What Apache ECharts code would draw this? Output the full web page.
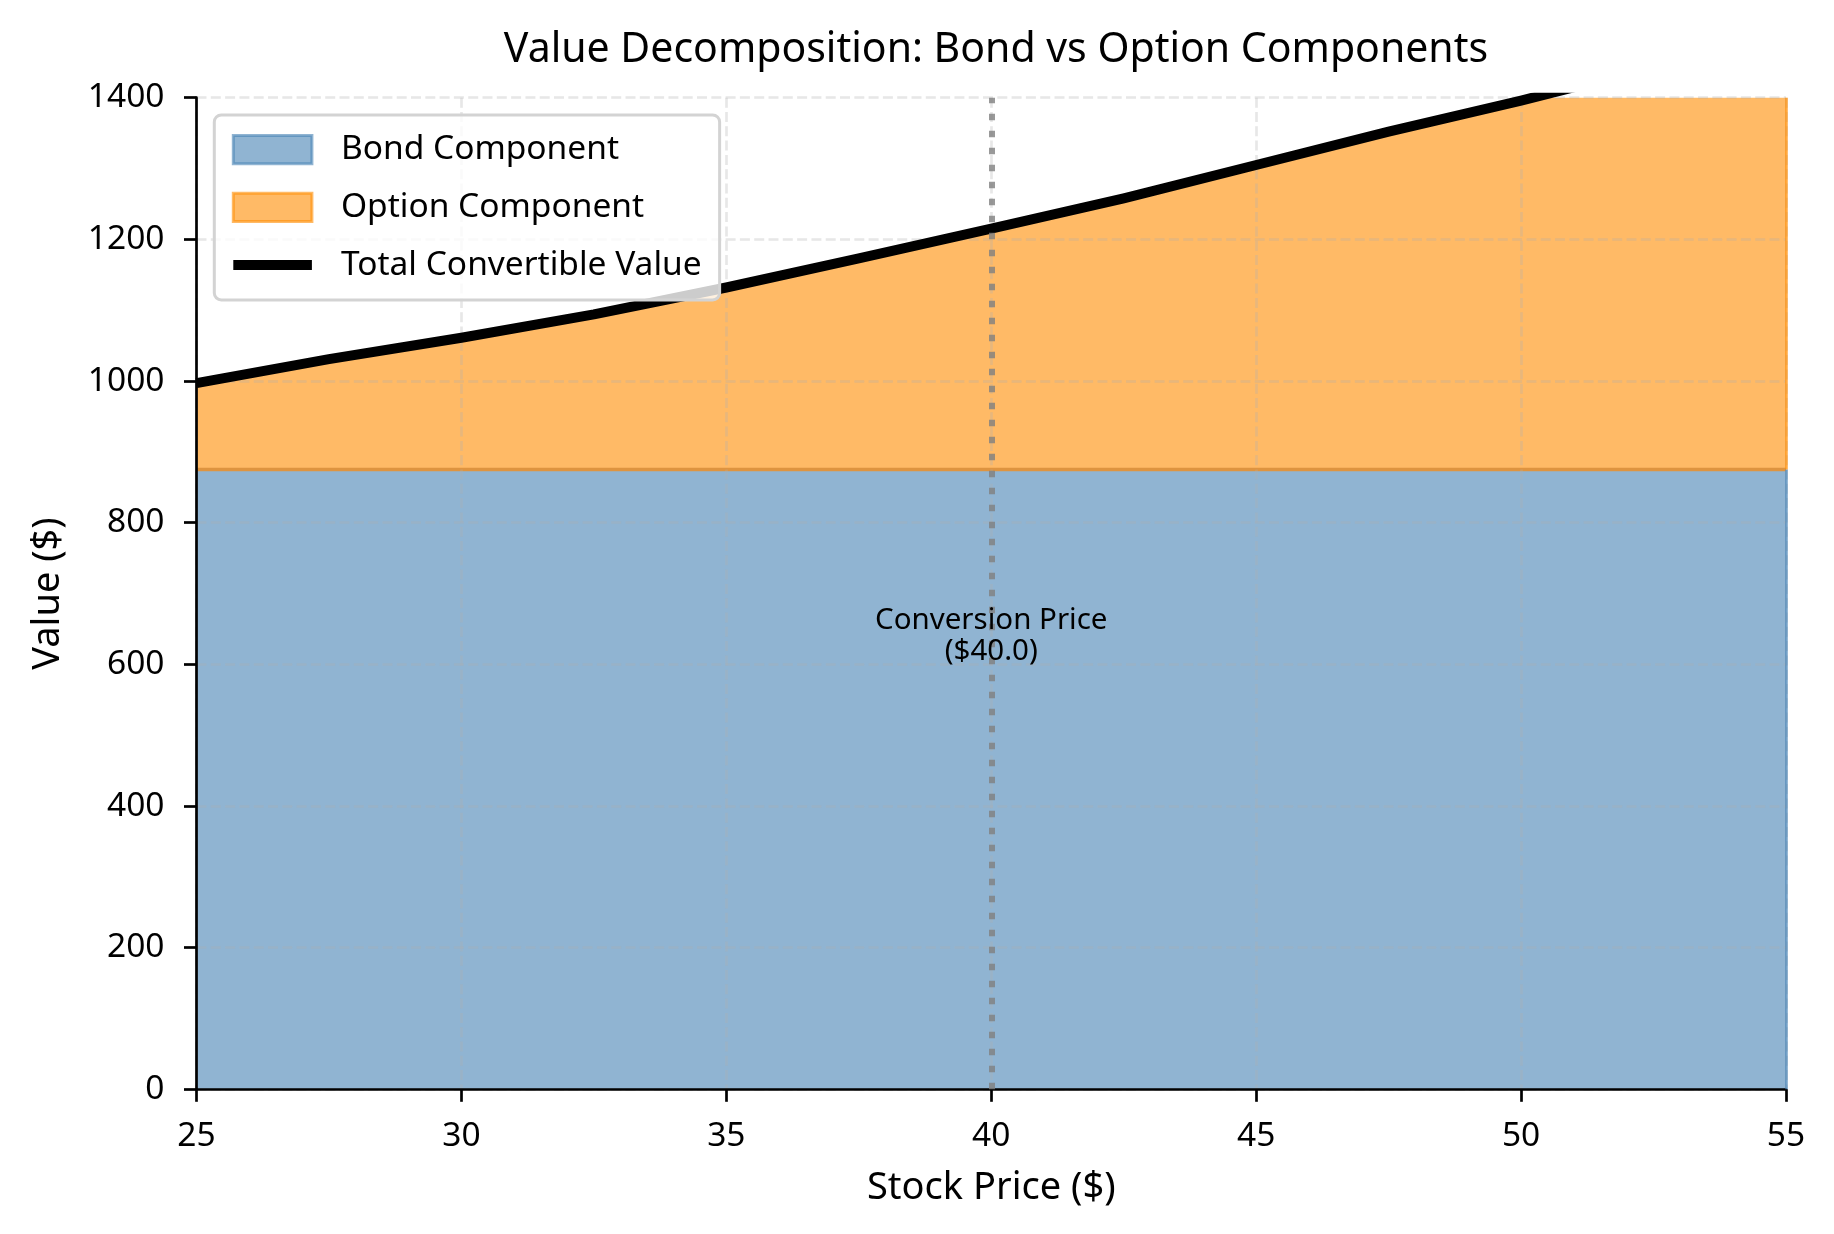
<!DOCTYPE html>
<html>
<head>
<meta charset="utf-8">
<script src="https://cdn.jsdelivr.net/npm/echarts@6/dist/echarts.min.js"></script>
<style>
html,body{margin:0;padding:0;background:#fff;}
#chart{width:1834px;height:1234px;}
</style>
</head>
<body>
<div id="chart"></div>
<script>
// ---- data ----
const stockPrices = [25, 27.5, 30, 32.5, 35, 37.5, 40, 42.5, 45, 47.5, 50, 52.5, 55];
const bondValues  = [875, 875, 875, 875, 875, 875, 875, 875, 875, 875, 875, 875, 875];
const totalValues = [997, 1031, 1061, 1094, 1132, 1173, 1215, 1258, 1305, 1352, 1396, 1443, 1492];
const xTickValues = [25, 30, 35, 40, 45, 50, 55];
const yTickValues = [0, 200, 400, 600, 800, 1000, 1200, 1400];
const conversionPrice = 40;
const annotationValue = 640;

const FONT = 'Noto Sans';
const xMin = xTickValues[0], xMax = xTickValues[xTickValues.length - 1];
const yMin = yTickValues[0], yMax = yTickValues[yTickValues.length - 1];
const xInt = xTickValues[1] - xTickValues[0];
const yInt = yTickValues[1] - yTickValues[0];
const lastX = stockPrices[stockPrices.length - 1];
const bondFloor = bondValues[0];
const lastBond = bondValues[bondValues.length - 1];
const lastTotal = Math.min(totalValues[totalValues.length - 1], yMax);

const pairs = arr => stockPrices.map((x, i) => [x, arr[i]]);

const gridLine = { show: true, lineStyle: { color: 'rgba(176,176,176,0.3)', width: 2.7, type: [10, 4.3] } };
const axisLine = { show: true, onZero: false, lineStyle: { color: '#000', width: 2.7 } };
const axisTick = { show: true, length: 12.5, lineStyle: { color: '#000', width: 2.7 } };

const chart = echarts.init(document.getElementById('chart'), null, { renderer: 'canvas' });
chart.setOption({
  backgroundColor: '#fff',
  animation: false,
  title: {
    text: 'Value Decomposition: Bond vs Option Components',
    left: 991, top: 24.5, textAlign: 'center',
    textStyle: { fontFamily: FONT, fontSize: 41, fontWeight: 'normal', color: '#000', lineHeight: 42 }
  },
  grid: { left: 196.5, right: 48, top: 97.7, bottom: 144.7, containLabel: false },
  legend: {
    z: 20,
    orient: 'vertical', left: 214.3, top: 115,
    padding: [17.7, 18, 17.8, 14],
    itemWidth: 78.6, itemHeight: 28.3, itemGap: 23.7,
    backgroundColor: 'rgba(255,255,255,0.8)',
    borderColor: '#d3d3d3', borderWidth: 3, borderRadius: 7,
    textStyle: { fontFamily: FONT, fontSize: 33.5, color: '#000', lineHeight: 28, padding: [0, 0, 0, 24] },
    data: [
      { name: 'Bond Component', icon: 'rect',
        itemStyle: { color: 'rgba(70,130,180,0.6)', borderColor: 'rgba(70,130,180,0.6)', borderWidth: 3 } },
      { name: 'Option Component', icon: 'rect',
        itemStyle: { color: 'rgba(255,140,0,0.6)', borderColor: 'rgba(255,140,0,0.6)', borderWidth: 3 } },
      { name: 'Total Convertible Value',
        lineStyle: { color: '#000', width: 10 }, itemStyle: { opacity: 0 } }
    ]
  },
  xAxis: {
    type: 'value', min: xMin, max: xMax, interval: xInt, z: 3,
    axisLine: axisLine, axisTick: axisTick, splitLine: gridLine,
    axisLabel: { fontFamily: FONT, fontSize: 33.5, color: '#000', margin: 30, lineHeight: 34,
                 formatter: v => String(v) },
    name: 'Stock Price ($)', nameLocation: 'middle', nameGap: 80,
    nameTextStyle: { fontFamily: FONT, fontSize: 38, color: '#000', lineHeight: 38 }
  },
  yAxis: {
    type: 'value', min: yMin, max: yMax, interval: yInt, z: 3,
    axisLine: axisLine, axisTick: axisTick, splitLine: gridLine,
    axisLabel: { fontFamily: FONT, fontSize: 33.5, color: '#000', margin: 32,
                 formatter: v => String(v) },
    name: 'Value ($)', nameLocation: 'middle', nameGap: 129,
    nameTextStyle: { fontFamily: FONT, fontSize: 38, color: '#000', lineHeight: 38 }
  },
  series: [
    {
      name: 'Bond Component', type: 'line', data: pairs(bondValues),
      symbol: 'none', z: 2,
      lineStyle: { color: '#de9440', width: 3.4 },
      itemStyle: { color: 'rgba(70,130,180,0.6)' },
      areaStyle: { color: 'rgba(70,130,180,0.6)', opacity: 1, origin: 'start' },
      markLine: {
        silent: true, symbol: ['none', 'none'], label: { show: false },
        lineStyle: { color: 'rgba(70,130,180,0.75)', width: 2.5, type: 'solid' },
        data: [[{ coord: [lastX, yMin] }, { coord: [lastX, lastBond] }]]
      }
    },
    {
      name: 'Option Component', type: 'line', data: pairs(totalValues),
      symbol: 'none', z: 2,
      lineStyle: { width: 0, color: 'rgba(255,140,0,0.6)' },
      itemStyle: { color: 'rgba(255,140,0,0.6)' },
      areaStyle: { color: 'rgba(255,140,0,0.6)', opacity: 1, origin: bondFloor },
      markLine: {
        silent: true, symbol: ['none', 'none'], label: { show: false },
        lineStyle: { color: 'rgba(255,140,0,0.75)', width: 2.5, type: 'solid' },
        data: [[{ coord: [lastX, lastBond] }, { coord: [lastX, lastTotal] }]]
      }
    },
    {
      name: 'Total Convertible Value', type: 'line', data: pairs(totalValues),
      symbol: 'none', z: 4,
      lineStyle: { color: '#000', width: 10, join: 'round' },
      itemStyle: { color: '#000' },
      markLine: {
        silent: true, symbol: ['none', 'none'], label: { show: false },
        lineStyle: { color: 'rgba(128,128,128,0.8)', width: 6, type: [6.5, 10.5] },
        data: [{ xAxis: conversionPrice }]
      },
      markPoint: {
        silent: true, symbol: 'circle', symbolSize: 0,
        itemStyle: { color: 'transparent' },
        label: {
          show: true, position: 'inside',
          formatter: 'Conversion Price\n($' + conversionPrice.toFixed(1) + ')',
          fontFamily: FONT, fontSize: 29.5, color: '#000', lineHeight: 31.7, align: 'center'
        },
        data: [{ coord: [conversionPrice, annotationValue] }]
      }
    }
  ]
});
</script>
</body>
</html>
